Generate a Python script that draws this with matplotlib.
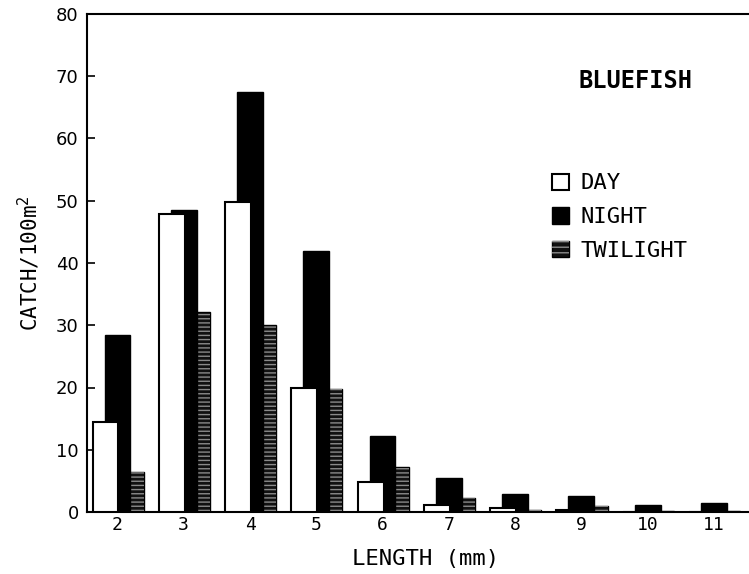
import matplotlib
matplotlib.use("Agg")
import matplotlib.pyplot as plt
import numpy as np
from matplotlib.patches import Patch

# catch per 100 m^2 by length class
lengths = [2, 3, 4, 5, 6, 7, 8, 9, 10, 11]
day = [14.5, 47.8, 49.8, 20.0, 4.8, 1.2, 0.6, 0.4, 0.0, 0.0]
night = [28.4, 48.5, 67.5, 41.9, 12.2, 5.5, 2.9, 2.6, 1.1, 1.4]
twilight = [6.5, 32.2, 30.1, 19.8, 7.2, 2.2, 0.3, 1.0, 0.2, 0.2]
y_ticks = [0, 10, 20, 30, 40, 50, 60, 70, 80]

mono = "DejaVu Sans Mono"
x = np.array(lengths, dtype=float)
width = 0.39

fig = plt.figure(figsize=(7.49, 5.74), dpi=100)
ax = fig.add_axes([87 / 749, 62 / 574, 1 - 87 / 749, 498 / 574])

# twilight: black fill with grey horizontal streaks, drawn behind
ax.bar(x + 0.2, twilight, width, color="#111111", edgecolor="black", linewidth=1, zorder=1)
ax.bar(x + 0.2, twilight, width, facecolor="none", edgecolor="#8a8a8a",
       hatch="----", linewidth=0, zorder=1.5)
ax.bar(x, night, width, color="black", edgecolor="black", linewidth=1, zorder=2)
ax.bar(x - 0.18, day, width, color="white", edgecolor="black", linewidth=1.5, zorder=3)

ax.set_xlim(1.54, 11.53)
ax.set_ylim(0, 80)
ax.set_xticks(lengths)
ax.set_xticklabels([str(v) for v in lengths], fontfamily=mono, fontsize=13)
ax.set_yticks(y_ticks)
ax.set_yticklabels([str(v) for v in y_ticks], fontfamily="DejaVu Sans", fontsize=13)
ax.tick_params(axis="both", direction="in", length=6, width=1.2, pad=6)
ax.tick_params(axis="x", length=0, pad=3)

ax.spines["right"].set_visible(False)
for side in ["left", "top", "bottom"]:
    ax.spines[side].set_linewidth(1.5)

ax.set_xlabel("LENGTH (mm)", fontfamily=mono, fontsize=16, labelpad=6)
ax.xaxis.set_label_coords(0.512, -0.075)
ax.set_ylabel("CATCH/100m$^2$", fontfamily=mono, fontsize=15, labelpad=10)

ax.text(0.828, 0.865, "BLUEFISH", transform=ax.transAxes, ha="center", va="center",
        fontfamily=mono, fontweight="bold", fontsize=17)

h_day = Patch(facecolor="white", edgecolor="black", linewidth=1.5)
h_night = Patch(facecolor="black", edgecolor="black")
h_twi = (Patch(facecolor="#111111", edgecolor="black"),
         Patch(facecolor="none", edgecolor="#8a8a8a", hatch="---", linewidth=0))
leg = ax.legend([h_day, h_night, h_twi], ["DAY", "NIGHT", "TWILIGHT"],
                loc="upper left", bbox_to_anchor=(0.672, 0.72), frameon=False,
                prop={"family": mono, "size": 16}, handlelength=0.75,
                handleheight=0.75, handletextpad=0.55, labelspacing=0.62)

fig.savefig("out.png", dpi=100)
